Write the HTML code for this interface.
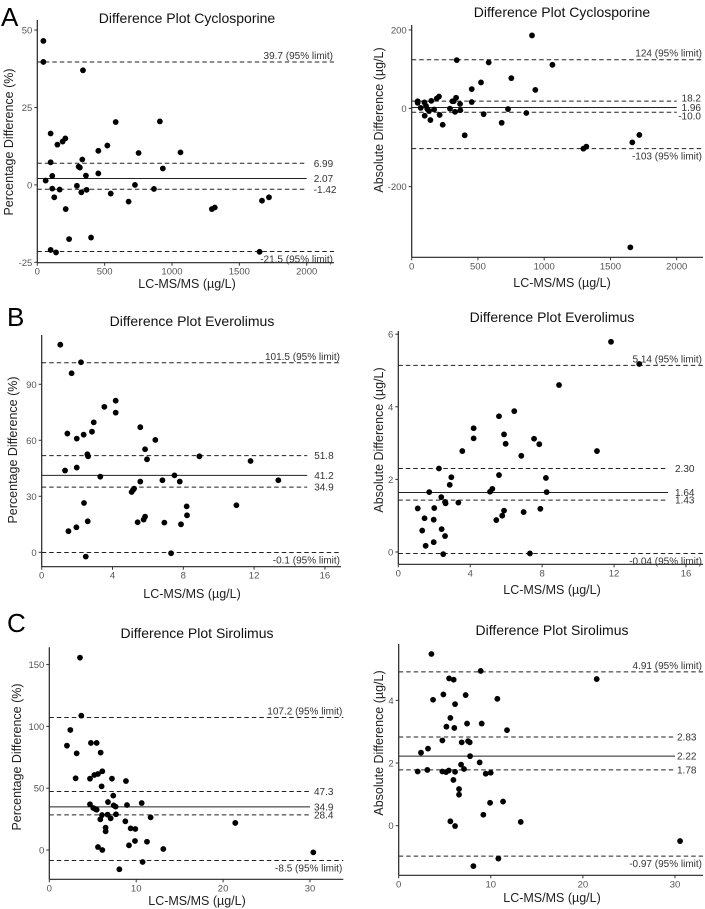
<!DOCTYPE html>
<html><head><meta charset="utf-8"><style>
html,body{margin:0;padding:0;background:#fff;}
svg{display:block;font-family:"Liberation Sans",Arial,sans-serif;}
.tk{font-size:9.5px;fill:#555;}
.at{font-size:12.5px;fill:#222;}
.tt{font-size:14px;fill:#111;}
.rl{font-size:10px;fill:#333;}
.lt{font-size:26px;fill:#000;}
</style></head><body>
<svg id="fig" width="705" height="909" viewBox="0 0 705 909" xmlns="http://www.w3.org/2000/svg"></svg>
<script>
// ---- Panel A (Cyclosporine) ----
const aLeftX = [45,45,339,99,149,188,208,99,62,111,111,126,166,211,236,99,139,307,316,334,361,294,327,366,399,453,453,520,545,582,678,725,752,866,910,932,1063,1296,1318,1650,1668,1720];
const aLeftY = [46.5,39.7,37,16.6,13,14,15,7.3,1.4,2.9,-1.2,-4,-1.5,-7.8,-17.5,-21,-21.8,5.9,5.6,8.2,3,-0.3,-2.4,-1.6,-17,11,3.7,12.7,-2.8,20.3,-5.4,0,10.3,-1.3,20.5,5.3,10.5,-7.8,-7.3,-21.6,-5.1,-4];
const aRightX = [45,45,68,96,98,108,118,131,141,148,169,189,206,211,234,289,307,317,335,327,340,365,367,400,453,453,523,543,581,727,679,752,865,908,933,1062,1296,1318,1650,1665,1718];
const aRightY = [18,14,1,15,-19,6,-2,-7,-30,19,-3,25,30,-17,-42,-1,18,18,27,-9,123,11,-5,-69,49,16,66,-15,117,-2,-37,77,-12,186,47,111,-103,-98,-355,-87,-68];
// ---- Panel B (Everolimus) ----
const bLeftX = [1.05,2.22,1.69,4.18,4.18,3.54,2.94,2.84,1.45,2.37,1.98,5.57,6.42,5.84,5.95,2.58,2.62,8.91,11.8,1.32,1.98,3.31,7.5,6.82,7.8,5.57,13.37,5.08,5.16,5.22,2.39,8.19,11.0,8.21,5.84,5.76,2.6,5.42,6.93,7.87,1.51,1.96,2.49,7.31];
const bLeftY = [111.2,101.8,95.9,81.2,74.8,77.9,69.6,64.6,63.6,63.0,60.9,67,60.2,55.2,49.8,52.5,51.4,51.4,48.9,43.8,45.4,40.5,41.2,38.6,37.9,37.9,38.6,32.3,33.4,34.1,26.4,24.6,25.2,19.8,19.1,17.5,16.6,16.1,15.9,15.0,11.3,13.4,-2.3,-0.5];
const bRightX = [11.83,13.4,8.94,6.45,5.6,4.19,4.19,5.88,5.97,7.55,7.84,3.56,6.84,11.05,2.26,2.95,2.86,5.6,8.21,5.23,5.1,1.72,8.25,2.39,2.6,2.63,3.34,1.08,2.0,7.9,5.88,6.97,5.78,1.46,1.97,5.45,1.33,2.41,2.6,1.52,1.97,2.5,7.32];
const bRightY = [5.79,5.18,4.60,3.88,3.74,3.41,3.13,3.24,2.98,3.12,2.97,2.78,2.65,2.78,2.30,2.06,1.85,2.12,2.04,1.74,1.66,1.65,1.65,1.51,1.38,1.34,1.36,1.20,1.21,1.19,1.14,1.10,1.00,0.93,0.89,0.88,0.59,0.63,0.44,0.17,0.27,-0.06,-0.04];
// ---- Panel C (Sirolimus) ----
const cLeftX = [3.53,3.68,2.42,2.03,3.15,4.79,5.45,5.91,3.03,4.68,5.18,5.6,6.1,6.02,7.21,8.82,7.36,4.68,5.06,5.29,5.45,6.75,7.4,7.63,8.94,10.63,6.06,5.87,6.71,7.06,7.67,11.66,6.48,6.48,8.75,9.36,9.9,5.6,6.1,9.17,9.86,11.24,13.12,21.4,10.74,8.06,30.38];
const cLeftY = [155.6,108.7,97.1,84.4,78.2,86.6,86.6,78.8,58.0,57.7,60.7,61.5,63.7,51.5,57.7,55.8,44.0,37.0,34.0,33.2,32.6,38.8,36.1,35.1,36.4,38.0,28.3,24.8,28.6,25.6,28.9,26.4,18.1,15.1,23.2,17.5,17.0,2.4,0,3.8,7.3,6.7,0.8,21.9,-9.7,-15.6,-1.9];
const cRightX = [3.55,8.9,5.47,5.97,21.5,4.85,7.27,3.73,10.71,6.12,5.61,5.18,6.04,7.42,9.01,11.76,4.74,6.84,7.53,7.71,3.18,2.42,7.75,6.77,8.79,7.09,2.06,3.11,4.74,5.14,5.43,6.12,9.45,9.99,5.94,6.55,6.55,9.92,11.33,9.19,5.61,6.12,13.25,30.55,10.82,8.11];
const cRightY = [5.48,4.94,4.70,4.66,4.68,4.19,4.17,4.02,4.05,3.88,3.44,3.16,3.12,3.26,3.26,3.05,2.72,2.66,2.70,2.66,2.46,2.33,2.22,1.95,2.02,1.81,1.73,1.78,1.73,1.71,1.76,1.72,1.66,1.69,1.46,1.17,0.99,0.73,0.77,0.35,0.14,-0.01,0.12,-0.49,-1.05,-1.29];
// reference lines: [upper limit, lower limit], [ci-high, mean, ci-low]
const aLeftLimits=[39.7,-21.5], aLeftMid=[6.99,2.07,-1.42], aLeftMidLbl=["6.99","2.07","-1.42"];
const aRightLimits=[124,-103], aRightMid=[18.2,1.96,-10.0], aRightMidLbl=["18.2","1.96","-10.0"];
const bLeftLimits=[101.5,-0.1], bLeftMid=[51.8,41.2,34.9], bLeftMidLbl=["51.8","41.2","34.9"];
const bRightLimits=[5.14,-0.04], bRightMid=[2.30,1.64,1.43], bRightMidLbl=["2.30","1.64","1.43"];
const cLeftLimits=[107.2,-8.5], cLeftMid=[47.3,34.9,28.4], cLeftMidLbl=["47.3","34.9","28.4"];
const cRightLimits=[4.91,-0.97], cRightMid=[2.83,2.22,1.78], cRightMidLbl=["2.83","2.22","1.78"];
const aXTicks=[0,500,1000,1500,2000], bXTicks=[0,4,8,12,16], cXTicks=[0,10,20,30];
const aLeftYTicks=[50,25,0,-25], aRightYTicks=[200,0,-200];
const bLeftYTicks=[0,30,60,90], bRightYTicks=[0,2,4,6];
const cLeftYTicks=[0,50,100,150], cRightYTicks=[0,2,4];

const NS="http://www.w3.org/2000/svg";
const svg=document.getElementById('fig');
function mk(tag,attrs,parent,text){const e=document.createElementNS(NS,tag);for(const k in attrs)e.setAttribute(k,attrs[k]);if(text!==undefined)e.textContent=text;(parent||svg).appendChild(e);return e;}

function panel(p){
  const g=mk('g',{});
  
  
  const sx=v=>p.x0+v*p.kx, sy=v=>p.y0-v*p.ky;
  const t=mk('text',{x:p.tcx,y:p.tby,'text-anchor':'middle',class:'tt'},g,p.title);
  
  
  if(p.letter){const l=mk('text',{x:p.lx,y:p.ly,class:'lt'},g,p.letter);
    
    }
  const ya=mk('line',{x1:p.x0,y1:p.yTop,x2:p.x0,y2:p.yBot,stroke:'#222','stroke-width':1.2},g);
  
  
  const xa=mk('line',{x1:p.x0,y1:p.yBot,x2:p.xEnd,y2:p.yBot,stroke:'#222','stroke-width':1.2},g);
  
  
  p.xt.forEach(v=>{
    mk('line',{x1:sx(v),y1:p.yBot,x2:sx(v),y2:p.yBot+3,stroke:'#333'},g);
    const tl=mk('text',{x:sx(v),y:p.yBot+12,'text-anchor':'middle',class:'tk'},g,String(v));
    
    
  });
  p.yt.forEach(v=>{
    mk('line',{x1:p.x0-3,y1:sy(v),x2:p.x0,y2:sy(v),stroke:'#333'},g);
    const tl=mk('text',{x:p.x0-5,y:sy(v)+3.5,'text-anchor':'end',class:'tk'},g,String(v));
    
    
  });
  const xt=mk('text',{x:p.xtx,y:p.xty,'text-anchor':'middle',class:'at'},g,'LC-MS/MS (\u00b5g/L)');
  
  
  const yt=mk('text',{x:0,y:0,'text-anchor':'middle',class:'at',transform:`translate(${p.ytx},${p.yty}) rotate(-90)`},g,p.ytitle);
  
  
  p.lim.forEach((v,i)=>{
    const ln=mk('line',{x1:p.x0,y1:sy(v),x2:p.xEnd,y2:sy(v),stroke:'#222','stroke-width':1,'stroke-dasharray':'4.5,3'},g);
    
    
    const lb=mk('text',{x:p.xEnd-1,y:i===0?sy(v)-3:sy(v)+11,'text-anchor':'end',class:'rl'},g,v.toFixed(p.limDec)+' (95% limit)');
    
    
  });
  const mEnd=sx(p.midEnd);
  p.mid.forEach((v,i)=>{
    const a={x1:p.x0,y1:sy(v),x2:mEnd,y2:sy(v),stroke:'#222','stroke-width':1};
    if(i!==1)a['stroke-dasharray']='4.5,3';
    const ln=mk('line',a,g);
    
    
    const off=p.midOff?p.midOff[i]:0;
    const la=p.midEndX?{x:p.midEndX,y:sy(v)+3.5+off,'text-anchor':'end',class:'rl'}:{x:mEnd+p.lblPad,y:sy(v)+3.5+off,'text-anchor':'start',class:'rl'};
    const lb=mk('text',la,g,p.midLbl[i]);
    
    
  });
  p.X.forEach((xv,i)=>{
    const c=mk('circle',{cx:sx(xv),cy:sy(p.Y[i]),r:2.9,fill:'#000'},g);
    
    
  });
}

panel({name:'panel-a-percentage',title:'Difference Plot Cyclosporine',tcx:187,tby:23,letter:'A',lx:1,ly:26,
  x0:37.3,kx:0.1347,xEnd:334,y0:184.9,ky:3.097,yTop:20,yBot:262.7,xt:aXTicks,yt:aLeftYTicks,
  xtx:187,xty:288,ytx:13,yty:142,ytitle:'Percentage Difference (%)',lim:aLeftLimits,limDec:1,
  mid:aLeftMid,midLbl:aLeftMidLbl,midEnd:2000,lblPad:7,X:aLeftX,Y:aLeftY});
panel({name:'panel-a-absolute',title:'Difference Plot Cyclosporine',tcx:562,tby:17,
  x0:411.7,kx:0.1325,xEnd:703,y0:108.3,ky:0.3917,yTop:25,yBot:257.3,xt:aXTicks,yt:aRightYTicks,
  xtx:562,xty:287,ytx:383,yty:120,ytitle:'Absolute Difference (\u00b5g/L)',lim:aRightLimits,limDec:0,
  mid:aRightMid,midLbl:aRightMidLbl,midEnd:2000,lblPad:5,midEndX:701,midOff:[-3,0,4],X:aRightX,Y:aRightY});
panel({name:'panel-b-percentage',title:'Difference Plot Everolimus',tcx:192,tby:326,letter:'B',lx:7,ly:326,
  x0:41.7,kx:17.7,xEnd:341,y0:552.3,ky:1.867,yTop:335,yBot:566.7,xt:bXTicks,yt:bLeftYTicks,
  xtx:192,xty:598,ytx:17,yty:450,ytitle:'Percentage Difference (%)',lim:bLeftLimits,limDec:1,
  mid:bLeftMid,midLbl:bLeftMidLbl,midEnd:15,lblPad:7,X:bLeftX,Y:bLeftY});
panel({name:'panel-b-absolute',title:'Difference Plot Everolimus',tcx:552,tby:322,
  x0:398.3,kx:17.98,xEnd:703,y0:552,ky:36.3,yTop:331,yBot:564.3,xt:bXTicks,yt:bRightYTicks,
  xtx:552,xty:594,ytx:383,yty:440,ytitle:'Absolute Difference (\u00b5g/L)',lim:bRightLimits,limDec:2,
  mid:bRightMid,midLbl:bRightMidLbl,midEnd:15,lblPad:7,X:bRightX,Y:bRightY});
panel({name:'panel-c-percentage',title:'Difference Plot Sirolimus',tcx:197,tby:638,letter:'C',lx:7,ly:632,
  x0:49.3,kx:8.69,xEnd:343.3,y0:850,ky:1.236,yTop:647.3,yBot:879.3,xt:cXTicks,yt:cLeftYTicks,
  xtx:197,xty:905,ytx:21,yty:757,ytitle:'Percentage Difference (%)',lim:cLeftLimits,limDec:1,
  mid:cLeftMid,midLbl:cLeftMidLbl,midEnd:30,lblPad:4,X:cLeftX,Y:cLeftY});
panel({name:'panel-c-absolute',title:'Difference Plot Sirolimus',tcx:552,tby:635,
  x0:398.7,kx:9.21,xEnd:703,y0:825.7,ky:31.33,yTop:644,yBot:875.3,xt:cXTicks,yt:cRightYTicks,
  xtx:552,xty:902,ytx:383,yty:743,ytitle:'Absolute Difference (\u00b5g/L)',lim:cRightLimits,limDec:2,
  mid:cRightMid,midLbl:cRightMidLbl,midEnd:30,lblPad:2,X:cRightX,Y:cRightY});
</script>
</body></html>
